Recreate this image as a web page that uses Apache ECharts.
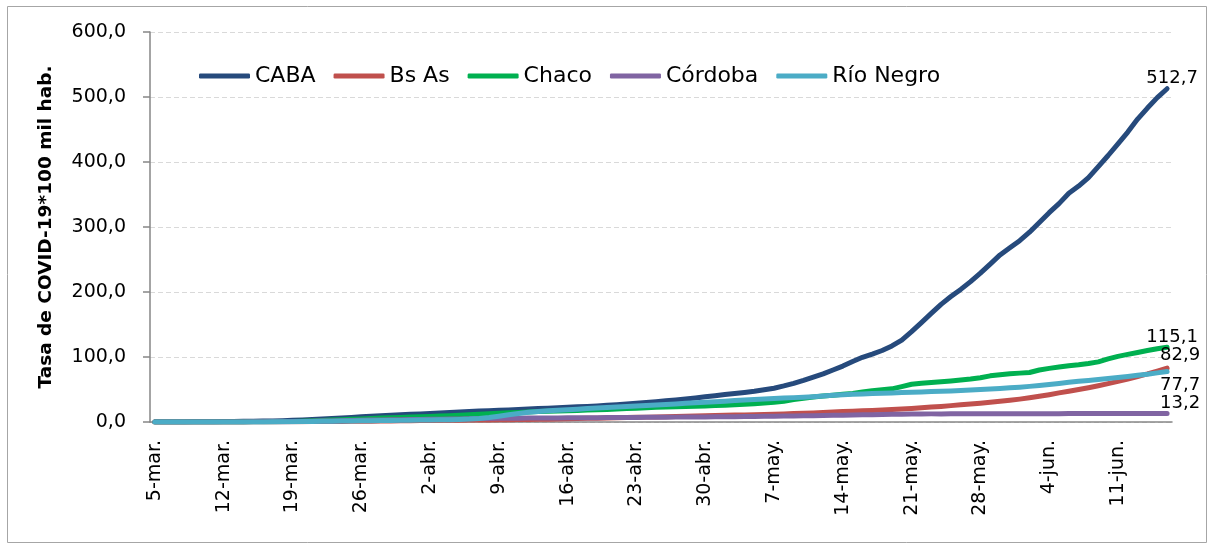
<!DOCTYPE html>
<html>
<head>
<meta charset="utf-8">
<script src="https://cdn.jsdelivr.net/npm/echarts@6/dist/echarts.min.js"></script>
<style>
  html, body { margin: 0; padding: 0; background: #fff; }
  #tasaCovid { width: 1209px; height: 544px; }
</style>
</head>
<body>
<div id="tasaCovid"></div>
<script>
  // fechas: 5-mar a 16-jun (un punto por día)
  const meses = ["mar.", "abr.", "may.", "jun."];
  const diasPorMes = [31, 30, 31, 30];
  const dias = [];
  for (let m = 0, d = 5; dias.length < 104; d++) {
    if (d > diasPorMes[m]) { m++; d = 1; }
    dias.push(d + "-" + meses[m]);
  }

  const caba = [
    0.0, 0.0, 0.1, 0.1, 0.2, 0.3, 0.4, 0.6,
    0.8, 1.0, 1.2, 1.4, 1.7, 2.0, 2.6,
    3.2, 3.9, 4.6, 5.3, 6.2, 7.0, 8.0,
    8.8, 9.6, 10.3, 11.0, 11.8, 12.4, 13.0,
    13.8, 14.5, 15.2, 16.0, 16.8, 17.4, 18.0,
    18.6, 19.3, 20.0, 20.6, 21.3, 22.0, 22.6,
    23.3, 24.0, 24.8, 25.6, 26.5, 27.6, 28.8,
    30.0, 31.3, 32.6, 34.0, 35.4, 37.0, 38.8,
    40.5, 42.2, 43.8, 45.5, 47.3, 49.5, 52.0,
    55.5, 59.5, 64.0, 69.0, 74.0, 80.0, 86.0,
    93.0, 99.5, 104.5, 110.0, 117.0, 126.0, 139.0,
    153, 167, 181, 193, 204, 216, 229,
    243, 257, 268, 279, 292, 307, 322,
    336, 352, 363, 376, 393, 410, 428,
    446, 466, 483, 499, 512.7
  ];
  const bsAs = [
    0, 0, 0, 0, 0, 0, 0, 0.1,
    0.1, 0.1, 0.2, 0.2, 0.3, 0.3, 0.4,
    0.5, 0.6, 0.7, 0.8, 0.9, 1.0, 1.2,
    1.3, 1.5, 1.6, 1.8, 2.0, 2.2, 2.4,
    2.5, 2.6, 2.8, 3.0, 3.1, 3.2, 3.4,
    3.6, 3.8, 4.0, 4.2, 4.4, 4.7, 5.0,
    5.3, 5.6, 5.9, 6.2, 6.5, 6.8, 7.2,
    7.5, 7.8, 8.1, 8.5, 8.9, 9.3, 9.7,
    10.0, 10.3, 10.6, 10.9, 11.2, 11.6, 12.0,
    12.4, 12.9, 13.4, 13.9, 14.5, 15.2, 16.0,
    16.6, 17.2, 17.8, 18.4, 19.2, 20.0, 20.8,
    21.8, 22.9, 24.0, 25.2, 26.4, 27.6, 29.0,
    30.4, 31.8, 33.4, 35.2, 37.2, 39.5, 42.0,
    44.8, 47.4, 50.0, 52.8, 55.8, 59.0, 62.5,
    66.2, 70.0, 74.0, 78.4, 82.9
  ];
  const chaco = [
    0, 0, 0, 0, 0, 0, 0, 0,
    0.1, 0.1, 0.2, 0.3, 0.4, 0.6, 0.9,
    1.3, 1.8, 2.4, 3.0, 3.6, 4.2, 4.8,
    5.4, 6.0, 6.5, 7.0, 7.6, 8.1, 8.6,
    9.2, 9.8, 10.5, 11.2, 12.0, 12.8, 13.6,
    14.2, 14.8, 15.4, 16.0, 16.5, 17.0, 17.4,
    17.8, 18.3, 18.8, 19.4, 20.0, 20.6, 21.3,
    22.0, 22.6, 23.1, 23.6, 24.0, 24.4, 24.8,
    25.3, 25.9, 26.6, 27.3, 28.1, 29.1, 30.3,
    32.0, 34.5, 36.6, 38.4, 40.0, 41.3, 42.6,
    44.0, 46.0, 48.2, 49.6, 51.0, 54.5, 58.0,
    59.5, 60.8, 61.8, 63.0, 64.5, 66.0, 68.0,
    71.0, 72.8, 74.2, 75.2, 76.2, 80.0, 82.5,
    84.5, 86.5, 88.0, 90.0, 92.5, 97.0, 101.0,
    104.0, 107.0, 110.0, 112.8, 115.1
  ];
  const cordoba = [
    0, 0, 0, 0, 0, 0, 0, 0,
    0.1, 0.1, 0.2, 0.3, 0.4, 0.5, 0.7,
    0.9, 1.1, 1.4, 1.7, 2.0, 2.3, 2.6,
    2.9, 3.1, 3.3, 3.5, 3.8, 4.0, 4.2,
    4.4, 4.6, 4.8, 5.0, 5.2, 5.4, 5.6,
    5.8, 5.9, 6.0, 6.1, 6.2, 6.3, 6.4,
    6.5, 6.6, 6.7, 6.8, 6.9, 7.0, 7.1,
    7.2, 7.3, 7.4, 7.5, 7.6, 7.7, 7.8,
    7.9, 8.0, 8.2, 8.4, 8.6, 8.8, 9.0,
    9.2, 9.4, 9.6, 9.8, 10.0, 10.2, 10.4,
    10.7, 11.0, 11.3, 11.6, 11.9, 12.1, 12.3,
    12.4, 12.5, 12.5, 12.6, 12.6, 12.6, 12.7,
    12.7, 12.7, 12.7, 12.8, 12.8, 12.8, 12.8,
    12.8, 12.9, 12.9, 12.9, 12.9, 13.0, 13.0,
    13.0, 13.1, 13.1, 13.2, 13.2
  ];
  const rioNegro = [
    0, 0, 0, 0, 0, 0, 0, 0,
    0, 0, 0.1, 0.1, 0.2, 0.3, 0.4,
    0.6, 0.8, 1.0, 1.2, 1.4, 1.6, 1.8,
    2.0, 2.2, 2.3, 2.5, 2.7, 2.9, 3.1,
    3.3, 3.6, 3.9, 4.5, 5.5, 7.0, 9.0,
    11.0, 13.0, 15.0, 16.2, 17.2, 18.2, 19.0,
    19.8, 20.6, 21.4, 22.2, 23.0, 23.8, 24.6,
    25.4, 26.2, 27.0, 27.8, 28.7, 29.6, 30.5,
    31.3, 32.1, 32.9, 33.7, 34.5, 35.3, 36.0,
    36.8, 37.5, 38.2, 39.0, 40.0, 41.0, 42.0,
    42.6, 43.2, 43.8, 44.3, 44.8, 45.3, 45.8,
    46.3, 46.8, 47.3, 47.8, 48.4, 49.2, 50.0,
    50.8, 51.6, 52.6, 53.6, 54.8, 56.2, 57.8,
    59.4, 61.0, 62.6, 64.0, 65.4, 66.8, 68.3,
    70.0, 71.8, 73.5, 75.6, 77.7
  ];

  const coma = (v) => v.toFixed(1).replace(".", ",");
  const fuente = "DejaVu Sans";

  function serie(nombre, valores, color, desplazamiento) {
    return {
      name: nombre,
      type: "line",
      data: valores,
      symbol: "none",
      lineStyle: { color: color, width: 5, cap: "round", join: "round" },
      itemStyle: { color: color },
      endLabel: {
        show: true,
        distance: 0,
        align: "center",
        verticalAlign: "middle",
        offset: desplazamiento,
        formatter: (p) => coma(p.value),
        color: "#000",
        fontFamily: fuente,
        fontSize: 18,
      },
    };
  }

  const myChart = echarts.init(document.getElementById("tasaCovid"), null, { renderer: "canvas" });

  myChart.setOption({
    animation: false,
    backgroundColor: "#fff",
    grid: { left: 150, right: 37, top: 32, bottom: 122 },
    legend: {
      left: 194,
      top: 60,
      icon: "roundRect",
      itemWidth: 51,
      itemHeight: 5,
      itemGap: 18,
      textStyle: { fontFamily: fuente, fontSize: 22, color: "#000" },
      data: ["CABA", "Bs As", "Chaco", "Córdoba", "Río Negro"],
    },
    xAxis: {
      type: "category",
      data: dias,
      axisLine: { lineStyle: { color: "#868686", width: 1.5 } },
      axisTick: { length: 7, lineStyle: { color: "#868686", width: 1.5 } },
      axisLabel: {
        rotate: 90,
        interval: 6,
        margin: 18,
        fontFamily: fuente,
        fontSize: 19,
        color: "#000",
      },
    },
    yAxis: {
      type: "value",
      min: 0,
      max: 600,
      interval: 100,
      axisLine: { show: true, lineStyle: { color: "#868686", width: 1.5 } },
      axisTick: { show: true, length: 7, lineStyle: { color: "#868686", width: 1.5 } },
      axisLabel: {
        margin: 24,
        formatter: (v) => coma(v),
        fontFamily: fuente,
        fontSize: 19,
        color: "#000",
      },
      splitLine: { lineStyle: { color: "#d9d9d9", type: [5, 3], width: 1 } },
    },
    series: [
      serie("CABA", caba, "#264a7c", [5, -10]),
      serie("Bs As", bsAs, "#c0504d", [13, -13]),
      serie("Chaco", chaco, "#00b050", [5, -10]),
      serie("Córdoba", cordoba, "#8064a2", [13, -10]),
      serie("Río Negro", rioNegro, "#4bacc6", [13, 14]),
    ],
  });

  // marco y título del eje y (girado), en una segunda pasada
  myChart.setOption({
    graphic: [{
      type: "rect",
      shape: { x: 7.5, y: 6.5, width: 1199, height: 536 },
      style: { fill: "none", stroke: "#a6a6a6", lineWidth: 1 },
      silent: true,
    }, {
      type: "text",
      x: 46,
      y: 227,
      rotation: Math.PI / 2,
      silent: true,
      style: {
        text: "Tasa de COVID-19*100 mil hab.",
        align: "center",
        verticalAlign: "middle",
        textAlign: "center",
        textVerticalAlign: "middle",
        fontFamily: fuente,
        fontWeight: "bold",
        fontSize: 18.5,
        fill: "#000",
      },
    }],
  });
</script>
</body>
</html>
